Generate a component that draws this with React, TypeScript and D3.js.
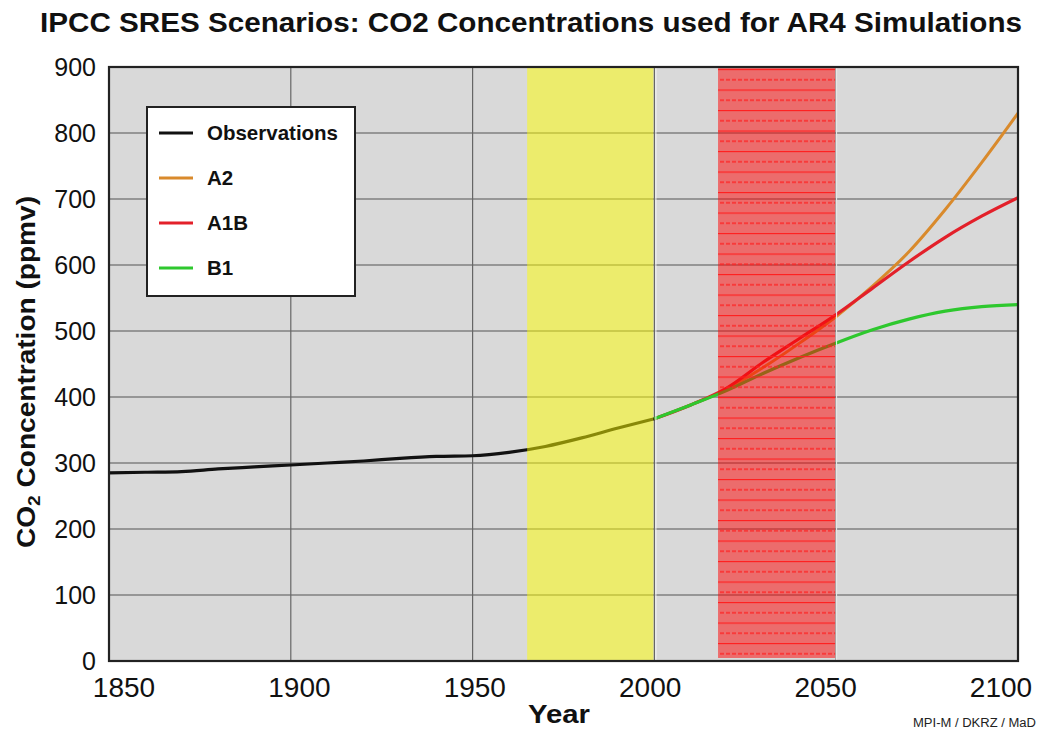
import React from "react";
import * as d3 from "d3";

const obsYears = [1850, 1860, 1870, 1880, 1890, 1900, 1910, 1920, 1930, 1940, 1950, 1960, 1970, 1980, 1990, 2000];
const obsValues = [285, 286, 287, 291, 294, 297, 300, 303, 307, 310, 311, 316, 325, 338, 353, 367];

const scenYears = [2000, 2010, 2020, 2030, 2040, 2050, 2060, 2070, 2080, 2090, 2100];
const a2Values = [367, 388, 412, 445, 482, 522, 568, 620, 684, 755, 830];
const a1bValues = [367, 388, 414, 453, 489, 525, 565, 605, 642, 674, 702];
const b1Values = [367, 388, 410, 436, 460, 482, 502, 518, 530, 537, 540];

const xTicks = [1850, 1900, 1950, 2000, 2050, 2100];
const yTicks = [0, 100, 200, 300, 400, 500, 600, 700, 800, 900];

const yellowBand = [1965, 2000];
const redBand = [2017.5, 2049.7];

const legendItems = [
  { label: "Observations", color: "#111111" },
  { label: "A2", color: "#d98a2c" },
  { label: "A1B", color: "#e3202a" },
  { label: "B1", color: "#2ec82e" },
];

const W = 1038;
const H = 732;
const PL = 109, PR = 1018, PT = 67, PB = 661;

export default function App() {
  const x = d3.scaleLinear().domain([1850, 2100]).range([PL, PR]);
  const xLab = d3.scaleLinear().domain([1850, 2100]).range([124, 1001]);
  const y = d3.scaleLinear().domain([0, 900]).range([PB, PT]);

  const line = d3
    .line<[number, number]>()
    .x((d) => x(d[0]))
    .y((d) => y(d[1]))
    .curve(d3.curveMonotoneX);

  const obsPath = line(obsYears.map((yr, i) => [yr, obsValues[i]]) as [number, number][]);
  const a2Path = line(scenYears.map((yr, i) => [yr, a2Values[i]]) as [number, number][]);
  const a1bPath = line(scenYears.map((yr, i) => [yr, a1bValues[i]]) as [number, number][]);
  const b1Path = line(scenYears.map((yr, i) => [yr, b1Values[i]]) as [number, number][]);

  return (
    <svg
      width={W}
      height={H}
      style={{ position: "absolute", left: 0, top: 0, background: "#ffffff" }}
      fontFamily="'Liberation Sans', Arial, sans-serif"
    >
      <defs>
        <pattern id="redlines" patternUnits="userSpaceOnUse" width={6} height={20.5} y={PT + 2}>
          <line x1={0} x2={6} y1={0.5} y2={0.5} stroke="#ff2020" strokeWidth={1.3} />
          <line x1={0} x2={4} y1={10.75} y2={10.75} stroke="#ff2020" strokeWidth={1.3} />
        </pattern>
        <clipPath id="plotclip">
          <rect x={PL} y={PT} width={PR - PL} height={PB - PT} />
        </clipPath>
      </defs>

      <text
        x={531}
        y={32}
        textAnchor="middle"
        fontSize={27}
        fontWeight="bold"
        textLength={982}
        lengthAdjust="spacingAndGlyphs"
        fill="#111"
      >
        IPCC SRES Scenarios: CO2 Concentrations used for AR4 Simulations
      </text>

      <rect x={PL} y={PT} width={PR - PL} height={PB - PT} fill="#d9d9d9" />

      {yTicks.map((t) => (
        <line key={"gy" + t} x1={PL} x2={PR} y1={y(t)} y2={y(t)} stroke="#555" strokeWidth={1.2} />
      ))}
      {xTicks.map((t) => (
        <line key={"gx" + t} x1={x(t)} x2={x(t)} y1={PT} y2={PB} stroke="#666" strokeWidth={1.2} />
      ))}

      <g clipPath="url(#plotclip)">
        <path d={obsPath || ""} fill="none" stroke="#111" strokeWidth={3.2} strokeLinejoin="round" />
        <path d={a2Path || ""} fill="none" stroke={legendItems[1].color} strokeWidth={3} strokeLinejoin="round" />
        <path d={a1bPath || ""} fill="none" stroke={legendItems[2].color} strokeWidth={3.2} strokeLinejoin="round" />
        <path d={b1Path || ""} fill="none" stroke={legendItems[3].color} strokeWidth={3.2} strokeLinejoin="round" />
      </g>

      <rect
        x={x(yellowBand[0])}
        y={PT}
        width={x(yellowBand[1]) - x(yellowBand[0]) - 1}
        height={PB - PT}
        fill="rgba(255,255,0,0.5)"
      />
      <line x1={x(yellowBand[1]) + 1.5} x2={x(yellowBand[1]) + 1.5} y1={PT} y2={PB} stroke="#f4f4f4" strokeWidth={1} />

      <rect
        x={x(redBand[0])}
        y={PT}
        width={x(redBand[1]) - x(redBand[0])}
        height={PB - PT - 3}
        fill="rgba(255,0,0,0.5)"
      />
      <rect
        x={x(redBand[0])}
        y={PT}
        width={x(redBand[1]) - x(redBand[0])}
        height={PB - PT - 3}
        fill="url(#redlines)"
      />
      <line x1={x(redBand[1]) + 1.5} x2={x(redBand[1]) + 1.5} y1={PT} y2={PB} stroke="#f2f2f2" strokeWidth={1} />

      <rect x={PL} y={PT} width={PR - PL} height={PB - PT} fill="none" stroke="#222" strokeWidth={2.2} />

      {yTicks.map((t) => (
        <text key={"yl" + t} x={96} y={y(t) + 9} textAnchor="end" fontSize={25} fill="#111">
          {t}
        </text>
      ))}
      {xTicks.map((t) => (
        <text key={"xl" + t} x={xLab(t)} y={697} textAnchor="middle" fontSize={28} fill="#111">
          {t}
        </text>
      ))}

      <text x={559} y={723} textAnchor="middle" fontSize={25} fontWeight="bold" fill="#111" textLength={62} lengthAdjust="spacingAndGlyphs">
        Year
      </text>

      <text
        transform={`translate(35, ${372}) rotate(-90)`}
        textAnchor="middle"
        fontSize={25}
        fontWeight="bold"
        fill="#111"
        textLength={352}
        lengthAdjust="spacingAndGlyphs"
      >
        CO
        <tspan fontSize={17} dy={5}>2</tspan>
        <tspan dy={-5}> Concentration (ppmv)</tspan>
      </text>

      <text x={1036} y={727} textAnchor="end" fontSize={12} fill="#222" textLength={123} lengthAdjust="spacingAndGlyphs">
        MPI-M / DKRZ / MaD
      </text>

      <rect x={147} y={107} width={208} height={189} fill="#ffffff" stroke="#222" strokeWidth={2} />
      {legendItems.map((it, i) => (
        <g key={it.label} transform={`translate(0, ${133 + i * 45})`}>
          <line x1={159} x2={193} y1={0} y2={0} stroke={it.color} strokeWidth={3} />
          <text x={207} y={7} fontSize={20.5} fontWeight="bold" fill="#111">
            {it.label}
          </text>
        </g>
      ))}
    </svg>
  );
}
